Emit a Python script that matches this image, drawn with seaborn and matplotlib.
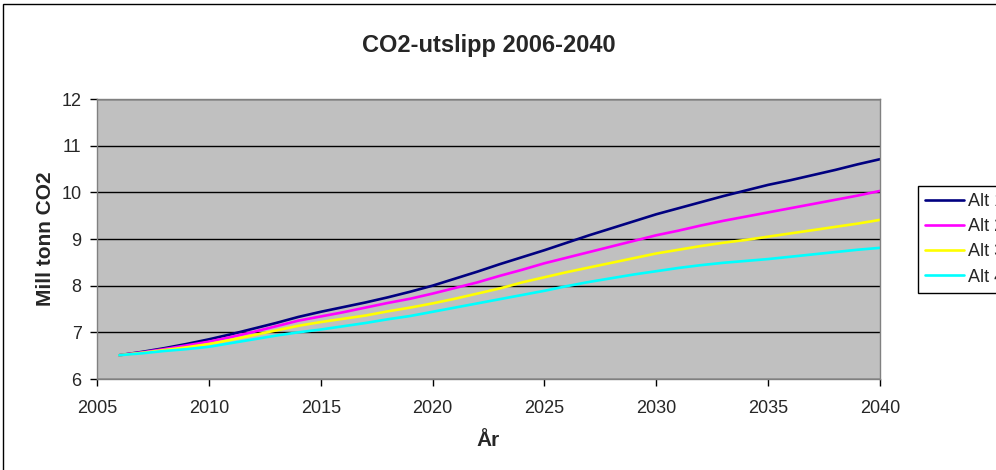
import numpy as np
import pandas as pd
import matplotlib
matplotlib.use('Agg')
import matplotlib.pyplot as plt
from matplotlib.patches import Rectangle
import seaborn as sns

years = list(range(2006, 2041))

alt1 = [6.51, 6.58, 6.66, 6.75, 6.85, 6.96, 7.08, 7.20, 7.33, 7.44,
        7.54, 7.64, 7.75, 7.87, 8.00, 8.15, 8.30, 8.46, 8.61, 8.76,
        8.92, 9.08, 9.23, 9.38, 9.53, 9.66, 9.79, 9.92, 10.04, 10.16,
        10.26, 10.37, 10.48, 10.60, 10.71]
alt2 = [6.51, 6.57, 6.64, 6.72, 6.80, 6.90, 7.01, 7.13, 7.25, 7.34,
        7.43, 7.53, 7.63, 7.72, 7.83, 7.95, 8.07, 8.21, 8.34, 8.48,
        8.60, 8.72, 8.84, 8.96, 9.08, 9.18, 9.29, 9.39, 9.48, 9.57,
        9.66, 9.75, 9.84, 9.93, 10.03]
alt3 = [6.51, 6.56, 6.62, 6.68, 6.75, 6.84, 6.94, 7.04, 7.14, 7.22,
        7.29, 7.36, 7.45, 7.53, 7.62, 7.72, 7.83, 7.94, 8.07, 8.18,
        8.29, 8.39, 8.49, 8.59, 8.69, 8.77, 8.85, 8.92, 8.98, 9.05,
        9.12, 9.19, 9.26, 9.33, 9.41]
alt4 = [6.51, 6.55, 6.60, 6.64, 6.69, 6.77, 6.85, 6.93, 7.00, 7.06,
        7.13, 7.20, 7.28, 7.35, 7.44, 7.53, 7.62, 7.71, 7.80, 7.89,
        7.99, 8.08, 8.16, 8.24, 8.31, 8.38, 8.44, 8.49, 8.53, 8.57,
        8.62, 8.67, 8.72, 8.77, 8.81]

labels = ['Alt 1', 'Alt 2', 'Alt 3', 'Alt 4']
colors = ['#000080', '#FF00FF', '#FFFF00', '#00FFFF']
x_ticks = [2005, 2010, 2015, 2020, 2025, 2030, 2035, 2040]
y_ticks = [6, 7, 8, 9, 10, 11, 12]

df = pd.DataFrame({'År': years * 4,
                   'value': alt1 + alt2 + alt3 + alt4,
                   'serie': np.repeat(labels, len(years))})

sns.set_style('white')
plt.rcParams['font.family'] = ['Liberation Sans', 'DejaVu Sans']

fig = plt.figure(figsize=(9.96, 4.70), dpi=100)
ax = fig.add_axes([97/996, 1-379/470, (880-97)/996, (379-99)/470])
ax.set_facecolor('#C0C0C0')

sns.lineplot(data=df, x='År', y='value', hue='serie', palette=colors,
             linewidth=1.9, ax=ax)

ax.set_xlim(2005, 2040)
ax.set_ylim(6, 12)
ax.set_xticks(x_ticks)
ax.set_yticks(y_ticks)
ax.yaxis.grid(True, color='black', linewidth=1)
ax.xaxis.grid(False)
ax.set_axisbelow(True)
for s in ax.spines.values():
    s.set_color('#808080')
    s.set_linewidth(1)
ax.tick_params(axis='both', direction='out', length=5, width=1, color='black',
               labelsize=13, left=True, bottom=True)
ax.tick_params(axis='x', pad=10)
ax.tick_params(axis='y', pad=6)

ax.set_title('CO2-utslipp 2006-2040', fontsize=17, fontweight='bold', pad=34)
ax.set_xlabel('År', fontsize=15, fontweight='bold', labelpad=10)
ax.set_ylabel('Mill tonn CO2', fontsize=15, fontweight='bold', labelpad=5)

sns.move_legend(ax, 'upper left', bbox_to_anchor=(918/996, 1-186/470),
                bbox_transform=fig.transFigure, title=None, fontsize=13,
                frameon=True, fancybox=False, borderaxespad=0,
                handlelength=2.15, handletextpad=0.2, labelspacing=0.45,
                borderpad=0.4)
leg = ax.get_legend()
leg.get_frame().set_edgecolor('black')
leg.get_frame().set_linewidth(1)
leg.get_frame().set_facecolor('white')
leg.get_frame().set_alpha(1)

# outer chart border (cut off at right and bottom)
fig.patches.append(Rectangle((3/996, -0.05), 1.2, 1.05 - 4/470,
                             transform=fig.transFigure, fill=False,
                             edgecolor='black', linewidth=1))

fig.savefig('out.png', dpi=100)
